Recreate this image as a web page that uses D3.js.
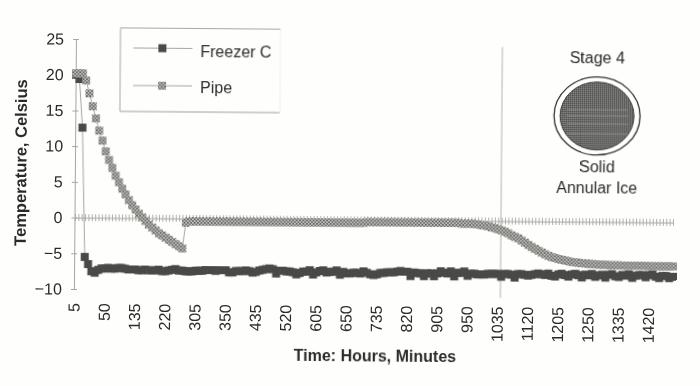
<!DOCTYPE html>
<html><head><meta charset="utf-8">
<style>
html,body{margin:0;padding:0;background:#fefefc;overflow:hidden}
text{font-family:"Liberation Sans",Arial,sans-serif;fill:#2c2c2c}
</style>
<script src="https://cdn.jsdelivr.net/npm/d3@7"></script>
</head><body><svg id="c" width="700" height="386"></svg>
<script>
const xTickLabels=["5","50","135","220","305","350","435","520","605","650","735","820","905","950","1035","1120","1205","1250","1335","1420"];
const yTicks=[25,20,15,10,5,0,-5,-10];
const freezer=[
20.0,19.4,12.6,-5.5,-6.5,-7.5,-7.7,-7.3,-7.1,-7.1,
-7.0,-7.1,-7.1,-7.0,-7.0,-7.1,-7.2,-7.2,-7.2,-7.3,
-7.3,-7.2,-7.3,-7.3,-7.3,-7.2,-7.4,-7.4,-7.3,-7.2,
-7.1,-7.3,-7.3,-7.4,-7.4,-7.4,-7.3,-7.3,-7.3,-7.2,
-7.2,-7.2,-7.3,-7.2,-7.2,-7.2,-7.5,-7.5,-7.3,-7.3,
-7.3,-7.2,-7.3,-7.5,-7.4,-7.2,-7.1,-7.0,-6.9,-7.0,
-7.6,-7.2,-7.2,-7.3,-7.3,-7.4,-7.7,-7.5,-7.3,-7.3,
-7.1,-7.7,-7.4,-7.2,-7.1,-7.4,-7.3,-7.3,-7.1,-7.7,
-7.3,-7.5,-7.5,-7.4,-7.4,-7.5,-7.2,-7.4,-7.6,-7.7,
-7.6,-7.4,-7.4,-7.3,-7.3,-7.3,-7.2,-7.1,-7.2,-7.2,
-7.8,-7.3,-7.4,-7.4,-7.8,-7.4,-7.4,-7.8,-7.4,-7.1,
-7.3,-7.4,-7.1,-7.8,-7.3,-7.3,-7.1,-7.7,-7.4,-7.4,
-7.5,-7.5,-7.5,-7.4,-7.4,-7.4,-7.4,-7.8,-7.4,-7.4,
-7.5,-7.9,-7.4,-7.4,-7.5,-7.6,-7.5,-7.4,-7.3,-7.4,
-7.5,-7.3,-7.6,-7.7,-7.4,-7.3,-7.5,-7.7,-7.4,-7.3,
-7.5,-7.8,-7.4,-7.5,-7.3,-7.7,-7.5,-7.4,-7.8,-7.4,
-7.3,-7.6,-7.7,-7.4,-7.5,-7.3,-7.8,-7.5,-7.4,-7.4,
-7.7,-7.4,-7.3,-7.6,-7.8,-7.5,-7.5,-7.8,-7.6];
const pipe=[
20.2,20.2,20.2,19.2,17.4,15.6,13.9,12.2,10.8,9.3,
8.1,7.0,5.9,5.0,4.1,3.3,2.5,1.8,1.2,0.6,
0.1,-0.4,-0.9,-1.3,-1.7,-2.1,-2.4,-2.7,-3.0,-3.3,
-3.6,-3.9,-4.2,-0.6,-0.4,-0.4,-0.4,-0.4,-0.4,-0.4,
-0.4,-0.4,-0.4,-0.4,-0.4,-0.4,-0.4,-0.4,-0.4,-0.4,
-0.4,-0.4,-0.4,-0.4,-0.4,-0.4,-0.4,-0.4,-0.4,-0.4,
-0.4,-0.4,-0.4,-0.4,-0.4,-0.4,-0.4,-0.4,-0.4,-0.4,
-0.4,-0.4,-0.4,-0.4,-0.4,-0.4,-0.4,-0.4,-0.4,-0.4,
-0.4,-0.4,-0.4,-0.4,-0.4,-0.4,-0.4,-0.3,-0.3,-0.3,
-0.3,-0.3,-0.3,-0.3,-0.3,-0.3,-0.3,-0.3,-0.3,-0.3,
-0.3,-0.3,-0.3,-0.3,-0.3,-0.3,-0.3,-0.3,-0.3,-0.3,
-0.3,-0.3,-0.3,-0.3,-0.3,-0.4,-0.4,-0.4,-0.4,-0.45,
-0.5,-0.6,-0.65,-0.75,-0.9,-1.0,-1.15,-1.3,-1.5,-1.7,
-2.0,-2.2,-2.4,-2.7,-3.0,-3.3,-3.6,-3.85,-4.1,-4.35,
-4.6,-4.8,-5.0,-5.1,-5.25,-5.35,-5.45,-5.55,-5.65,-5.7,
-5.75,-5.8,-5.85,-5.9,-5.9,-5.95,-6.0,-6.0,-6.0,-6.05,
-6.05,-6.05,-6.05,-6.1,-6.1,-6.1,-6.1,-6.1,-6.1,-6.1,
-6.1,-6.15,-6.15,-6.15,-6.15,-6.15,-6.15,-6.15,-6.15];
const tickEvery=9, stageIndex=126.8;

const svg=d3.select("#c");
const defs=svg.append("defs");
const blur=defs.append("filter").attr("id","scan").attr("filterUnits","userSpaceOnUse")
 .attr("x",0).attr("y",0).attr("width",700).attr("height",386);
blur.append("feGaussianBlur").attr("stdDeviation",0.4);
const chk=defs.append("pattern").attr("id","chk").attr("patternUnits","userSpaceOnUse").attr("width",3.4).attr("height",3.4);
chk.append("rect").attr("width",3.4).attr("height",3.4).attr("fill","#c4c4c0");
chk.append("rect").attr("width",1.7).attr("height",1.7).attr("fill","#5f5f5c");
chk.append("rect").attr("x",1.7).attr("y",1.7).attr("width",1.7).attr("height",1.7).attr("fill","#6e6e6a");
const ice=defs.append("pattern").attr("id","ice").attr("patternUnits","userSpaceOnUse").attr("width",2).attr("height",2);
ice.append("rect").attr("width",2).attr("height",2).attr("fill","#6a6a68");
ice.append("rect").attr("width",1).attr("height",1).attr("fill","#858583");
ice.append("rect").attr("x",1).attr("y",1).attr("width",1).attr("height",1).attr("fill","#4e4e4c");

const root=svg.append("g").attr("filter","url(#scan)");
const g=root.append("g").attr("transform","rotate(0.47 74 218)");

const x=d3.scaleLinear().domain([0,pipe.length-1]).range([75,673]);
const y=d3.scaleLinear().domain([-10,25]).range([289,39]);
const gray="#a5a5a2";
const markerSize=8;

// Y axis
const yAxis=g.append("g").attr("transform","translate(74.5,0)")
 .call(d3.axisLeft(y).tickValues(yTicks).tickSizeOuter(0).tickSizeInner(3).tickPadding(9));
yAxis.select(".domain").attr("stroke",gray);
yAxis.selectAll(".tick line").attr("x2",3).attr("x1",-3).attr("stroke",gray);
yAxis.selectAll("text").style("font-size","16px").attr("fill","#333");

// Zero line with a tick at every reading
const zeroAxis=g.append("g").attr("transform",`translate(0,${y(0)})`)
 .call(d3.axisBottom(x).tickValues(d3.range(pipe.length)).tickSize(0).tickFormat(""));
zeroAxis.select(".domain").attr("stroke",gray);
zeroAxis.selectAll(".tick line").attr("y1",-3.5).attr("y2",3.5).attr("stroke","#a8a8a4").attr("stroke-width",0.9);

// Time labels
const labelAxis=g.append("g").attr("transform","translate(-1,303)")
 .call(d3.axisBottom(x).tickValues(xTickLabels.map((_,i)=>i*tickEvery))
 .tickFormat((d,i)=>xTickLabels[i]).tickSize(0).tickPadding(0));
labelAxis.select(".domain").remove();
labelAxis.selectAll("text").attr("transform","rotate(-90)").attr("text-anchor","end")
 .attr("x",0).attr("y",0).attr("dy","0.36em").style("font-size","16px").attr("fill","#333");

// Stage divider
g.append("line").attr("x1",x(stageIndex)).attr("x2",x(stageIndex)).attr("y1",43.5).attr("y2",294.5)
 .attr("stroke","#b4b4b0").attr("stroke-width",1);

// Series
const line=d3.line().x((d,i)=>x(i)).y(d=>y(d));
g.append("path").datum(freezer).attr("d",line).attr("fill","none").attr("stroke",gray);
g.append("g").selectAll("rect").data(freezer).join("rect")
 .attr("x",(d,i)=>x(i)-markerSize/2).attr("y",d=>y(d)-markerSize/2).attr("width",markerSize).attr("height",markerSize).attr("fill","#484846");
g.append("path").datum(pipe).attr("d",line).attr("fill","none").attr("stroke",gray);
g.append("g").selectAll("rect").data(pipe).join("rect")
 .attr("x",(d,i)=>x(i)-markerSize/2).attr("y",d=>y(d)-markerSize/2).attr("width",markerSize).attr("height",markerSize)
 .attr("fill","url(#chk)");

// Axis titles
g.append("text").attr("transform","translate(26,163) rotate(-90)").attr("text-anchor","middle")
 .style("font-size","16.5px").style("font-weight","bold").text("Temperature, Celsius");
g.append("text").attr("x",376).attr("y",359).attr("text-anchor","middle")
 .style("font-size","16px").style("font-weight","bold").text("Time: Hours, Minutes");

// Legend
const lg=g.append("g");
lg.append("path").attr("d","M119,27.5H279M119,27.5V111").attr("fill","none").attr("stroke","#a8a8a4");
lg.append("path").attr("d","M119,111H279").attr("fill","none").attr("stroke","#a0a09c");
lg.append("path").attr("d","M279,27.5V111").attr("fill","none").attr("stroke","#f0f0ec");
const legend=[{name:"Freezer C",fill:"#484846",ty:47.5,by:56},{name:"Pipe",fill:"url(#chk)",ty:85,by:91.5}];
legend.forEach(l=>{
 lg.append("line").attr("x1",132).attr("x2",191).attr("y1",l.ty).attr("y2",l.ty).attr("stroke",gray);
 lg.append("rect").attr("x",157).attr("y",l.ty-4).attr("width",markerSize).attr("height",markerSize).attr("fill",l.fill);
 lg.append("text").attr("x",199).attr("y",l.by).style("font-size","16px").text(l.name);
});

// Stage 4 annotation
g.append("text").attr("x",596).attr("y",58.7).attr("text-anchor","middle").style("font-size","16px").text("Stage 4");
g.append("ellipse").attr("cx",596.2).attr("cy",111.7).attr("rx",43).attr("ry",39).attr("fill","#fff").attr("stroke","#333").attr("stroke-width",1.3);
g.append("ellipse").attr("cx",596.2).attr("cy",111.7).attr("rx",37).attr("ry",34).attr("fill","url(#ice)").attr("stroke","#3c3c3a").attr("stroke-width",1);
[-6,0,8,18].forEach(dy=>{
 g.append("line").attr("x1",566).attr("x2",627).attr("y1",111.7+dy).attr("y2",111.7+dy).attr("stroke","#b0b0ac").attr("stroke-width",0.7).attr("opacity",0.6);
});
g.append("text").attr("x",596.5).attr("y",168.3).attr("text-anchor","middle").style("font-size","16px").text("Solid");
g.append("text").attr("x",596.5).attr("y",188.7).attr("text-anchor","middle").style("font-size","16px").text("Annular Ice");
</script></body></html>
